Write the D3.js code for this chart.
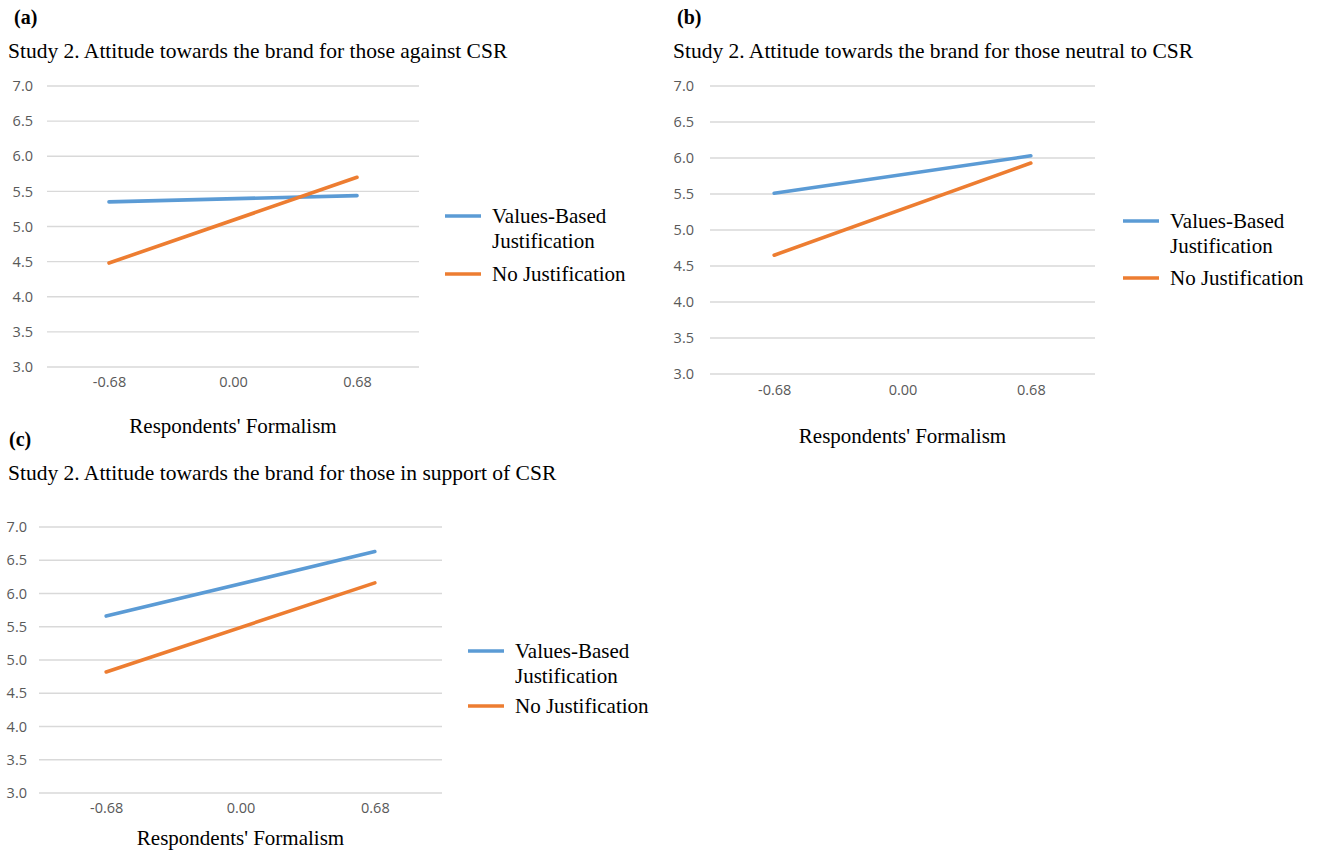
<!DOCTYPE html>
<html>
<head>
<meta charset="utf-8">
<script src="https://cdn.jsdelivr.net/npm/d3@7"></script>
<style>
  body { margin: 0; background: #fff; }
  svg { display: block; }
</style>
</head>
<body>
<svg id="chart" width="1321" height="851"></svg>
<script>
// Category positions on the formalism axis
const categories = ["-0.68", "0.00", "0.68"];
const yTicks = [3.0, 3.5, 4.0, 4.5, 5.0, 5.5, 6.0, 6.5, 7.0];
const seriesNames = ["Values-Based Justification", "No Justification"];
const seriesColors = ["#5B9BD5", "#ED7D31"];

// Estimated means at low (-0.68) and high (0.68) formalism
const againstValuesBased = [5.35, 5.44];
const againstNoJustification = [4.48, 5.70];
const neutralValuesBased = [5.51, 6.03];
const neutralNoJustification = [4.65, 5.93];
const supportValuesBased = [5.66, 6.63];
const supportNoJustification = [4.82, 6.16];

const lineCategories = ["-0.68", "0.68"];

const panels = [
  {
    tag: "(a)", tagX: 14, tagY: 24,
    title: "Study 2. Attitude towards the brand for those against CSR", titleX: 8, titleY: 58,
    x0: 47, x1: 419, yTop: 86, yBot: 367, tickLabelX: 33, xTickY: 387,
    axisTitleY: 433,
    legendX: 445, legendY: 216, legendNoY: 274,
    series: [againstValuesBased, againstNoJustification]
  },
  {
    tag: "(b)", tagX: 677, tagY: 24,
    title: "Study 2. Attitude towards the brand for those neutral to CSR", titleX: 673, titleY: 58,
    x0: 710, x1: 1095, yTop: 86, yBot: 374, tickLabelX: 694, xTickY: 395,
    axisTitleY: 443,
    legendX: 1123, legendY: 221, legendNoY: 278,
    series: [neutralValuesBased, neutralNoJustification]
  },
  {
    tag: "(c)", tagX: 9, tagY: 446,
    title: "Study 2. Attitude towards the brand for those in support of CSR", titleX: 8, titleY: 480,
    x0: 39, x1: 442, yTop: 527, yBot: 793, tickLabelX: 27, xTickY: 813,
    axisTitleY: 845,
    legendX: 468, legendY: 651, legendNoY: 706,
    series: [supportValuesBased, supportNoJustification]
  }
];

const svg = d3.select("#chart");
const serif = "'Liberation Serif', 'Times New Roman', serif";
const sans = "'Open Sans', 'Noto Sans', sans-serif";

panels.forEach(p => {
  const g = svg.append("g");

  // Panel tag and heading
  g.append("text").attr("x", p.tagX).attr("y", p.tagY)
    .attr("font-family", serif).attr("font-weight", "bold").attr("font-size", 20)
    .attr("fill", "#000").text(p.tag);
  g.append("text").attr("x", p.titleX).attr("y", p.titleY)
    .attr("font-family", serif).attr("font-size", 21.5)
    .attr("fill", "#000").text(p.title);

  const x = d3.scalePoint().domain(categories).range([p.x0, p.x1]).padding(0.5);
  const y = d3.scaleLinear().domain([3, 7]).range([p.yBot, p.yTop]);

  // Horizontal gridlines
  g.append("g").selectAll("line").data(yTicks).join("line")
    .attr("x1", p.x0).attr("x2", p.x1)
    .attr("y1", d => y(d)).attr("y2", d => y(d))
    .attr("stroke", "#d9d9d9").attr("stroke-width", 1.3);

  // Y axis labels
  const yAxis = d3.axisLeft(y).tickValues(yTicks).tickFormat(d3.format(".1f")).tickSize(0).tickPadding(0);
  const ya = g.append("g").attr("transform", `translate(${p.tickLabelX},0)`).call(yAxis);
  ya.select(".domain").remove();
  ya.selectAll("text").attr("font-family", sans).attr("font-size", 14.5).attr("fill", "#595959");

  // X axis labels (centred on xTickY)
  const xAxis = d3.axisBottom(x).tickSize(0).tickPadding(0);
  const xa = g.append("g").attr("transform", `translate(0,${p.xTickY - 5})`).call(xAxis);
  xa.select(".domain").remove();
  xa.selectAll("text").attr("dy", "0.36em")
    .attr("font-family", sans).attr("font-size", 14.5).attr("fill", "#595959");

  // Axis title
  g.append("text").attr("x", x("0.00")).attr("y", p.axisTitleY)
    .attr("text-anchor", "middle")
    .attr("font-family", serif).attr("font-size", 21).attr("fill", "#000")
    .text("Respondents' Formalism");

  // Series lines
  const line = d3.line().x((d, i) => x(lineCategories[i])).y(d => y(d));
  p.series.forEach((vals, i) => {
    g.append("path").datum(vals).attr("d", line)
      .attr("fill", "none").attr("stroke", seriesColors[i])
      .attr("stroke-width", 3.6).attr("stroke-linecap", "round");
  });

  // Legend
  const lg = g.append("g");
  const rows = [
    { y: p.legendY, color: seriesColors[0], lines: ["Values-Based", "Justification"] },
    { y: p.legendNoY, color: seriesColors[1], lines: [seriesNames[1]] }
  ];
  rows.forEach(r => {
    lg.append("line").attr("x1", p.legendX).attr("x2", p.legendX + 36)
      .attr("y1", r.y).attr("y2", r.y)
      .attr("stroke", r.color).attr("stroke-width", 3.6);
    r.lines.forEach((t, k) => {
      lg.append("text").attr("x", p.legendX + 47).attr("y", r.y + 7 + k * 25)
        .attr("font-family", serif).attr("font-size", 21).attr("fill", "#000")
        .text(t);
    });
  });
});
</script>
</body>
</html>
